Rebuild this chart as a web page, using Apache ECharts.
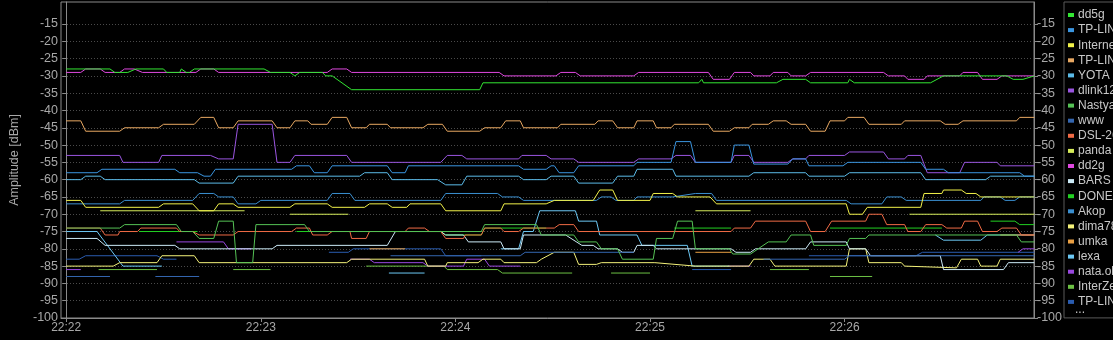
<!DOCTYPE html>
<html><head><meta charset="utf-8">
<script src="https://cdn.jsdelivr.net/npm/echarts@6/dist/echarts.min.js"></script>
<style>html,body{margin:0;padding:0;background:#000;}#c{width:1113px;height:340px;}</style>
</head><body><div id="c"></div>
<script>
// time in seconds after 22:22:00, amplitude in dBm; [t,'-'] = gap
const yTicks = [-15,-20,-25,-30,-35,-40,-45,-50,-55,-60,-65,-70,-75,-80,-85,-90,-95,-100];
const xTicks = [0,60,120,180,240];
const xTickLabels = ['22:22','22:23','22:24','22:25','22:26'];
const seriesNames = ['dd5g','TP-LINK_1','Internet','TP-LINK_2','YOTA','dlink12','Nastya','www','DSL-26','panda','dd2g','BARS','DONET','Akop','dima78','umka','lexa','nata.olm','InterZet','TP-LINK_3'];
const seriesColors = ['#33e633','#3a95e0','#f2f24a','#e8a862','#5bbbe8','#9a55e0','#55c255','#3466b0','#f06a45','#d6ec5a','#e048e0','#cdebf7','#22d022','#3a8fd0','#f4f27a','#eaa044','#6cc8f4','#9a48e0','#6cc044','#2a5cb0'];

const dd5g = [[0,-28],[13.5,-28],[15,-29],[19,-29],[21.5,-28],[30,-28],[31,-29],[35,-29],[35.5,-28],[36,-28],[37,-29],[38,-29],[39.5,-28],[61,-28],[63,-29],[69,-29],[70.5,-30],[71,-30],[72,-29],[79,-29],[80,-30],[82,-30],[88,-34],[127.5,-34],[128.5,-32],[195,-32],[196,-31],[196.5,-32],[219,-32],[221,-31],[228,-31],[229.5,-32],[241,-32],[241.5,-31],[243,-32],[266.5,-32],[270.5,-30],[290,-30],[292,-31],[295,-31],[298.5,-30]];
const tplink1 = [[0,-58],[9.5,-58],[11,-57],[33.5,-57],[35,-58],[40.5,-58],[42.5,-59],[44.5,-59],[46,-57],[69.5,-57],[71,-56],[75,-56],[76.5,-58],[80.5,-58],[82,-56],[99,-56],[100.5,-58],[104.5,-58],[105.5,-56],[139.5,-56],[141,-57],[148,-57],[149.5,-56],[150.5,-56],[152,-58],[156.5,-58],[158,-56],[175,-56],[176,-55],[186.5,-55],[188,-49],[192.5,-49],[194,-55],[205,-55],[206,-50],[210.5,-50],[212,-55.5],[222.5,-55.5],[224,-54],[228,-54],[229,-56],[239.5,-56],[241,-55],[263.5,-55],[265,-57],[270.5,-57],[272,-58],[294,-58],[295.5,-59],[298.5,-59]];
const internet = [[0,-66],[4.5,-66],[6,-68],[28.5,-68],[30,-67],[39,-67],[41,-69],[45.5,-69],[47,-67],[51.5,-67],[53,-68],[69,-68],[70.5,-67],[80.5,-67],[82,-68],[92,-68],[93.5,-67],[99,-67],[100.5,-68],[105,-68],[106,-67],[115.5,-67],[117,-69],[134,-69],[135,-67],[148,-67],[150.5,-66],[162.5,-66],[164.5,-63],[168.5,-63],[170,-66],[180,-66],[181,-64],[187,-64],[188.5,-65],[198.5,-65],[200.5,-67],[240.5,-67],[241.5,-70],[245.5,-70],[247,-68],[263.5,-68],[264.5,-64],[270,-64],[270.5,-63],[276,-63],[277.5,-64],[280.5,-64],[282,-65],[298.5,-65]];
const tplink2 = [[0,-43],[4.5,-43],[6,-46],[16.5,-46],[18,-45],[28.5,-45],[30,-44],[39.5,-44],[41.5,-42],[45.5,-42],[47,-45],[51.5,-45],[53,-43],[63.5,-43],[65,-45],[69,-45],[70.5,-43],[74.5,-43],[75.5,-44],[80.5,-44],[82,-42],[86.5,-42],[88,-45],[92.5,-45],[93.5,-44],[99,-44],[100,-45],[110,-45],[111.5,-44],[116,-44],[117.5,-46],[127.5,-46],[129,-45],[134,-45],[135.5,-43],[140,-43],[141,-45],[151.5,-45],[152.5,-44],[163,-44],[164,-43],[168.5,-43],[170,-45],[175,-45],[176,-43],[181,-43],[182,-45],[186.5,-45],[187.5,-44],[198,-44],[199.5,-46],[204.5,-46],[206,-45],[210.5,-45],[211.5,-44],[216.5,-44],[218,-43],[222,-43],[223.5,-44],[228,-44],[229.5,-46],[234,-46],[235.5,-43],[240,-43],[241,-42],[246,-42],[247.5,-44],[257.5,-44],[258.5,-43],[269.5,-43],[271,-44],[275,-44],[276.5,-43],[293,-43],[294,-42],[298.5,-42]];
const yota = [[0,-60],[4.5,-60],[6,-59],[10.5,-59],[12,-60],[39.5,-60],[41,-61],[51.5,-61],[53,-59],[90.5,-59],[92,-58],[99,-58],[100.5,-60],[114.5,-60],[117,-61.5],[122,-61.5],[123.5,-59],[139.5,-59],[141,-60],[148,-60],[149.5,-59],[156.5,-59],[158,-61],[168.5,-61],[170,-59],[175,-59],[176,-57],[187,-57],[188,-59],[210.5,-59],[212,-58],[228,-58],[229,-59],[240,-59],[241.5,-58],[263.5,-58],[265,-60],[283.5,-60],[285,-59],[298.5,-59]];
const dlink12 = [[0,-53],[16.5,-53],[17.5,-55],[28.5,-55],[29.5,-53],[44.5,-53],[47,-54],[51.5,-54],[53,-44],[63.5,-44],[65,-55],[69,-55],[70.5,-53],[86.5,-53],[88,-55],[115.5,-55],[117.5,-53],[122,-53],[123.5,-54],[139.5,-54],[140.5,-53],[148,-53],[149.5,-54],[156.5,-54],[158,-55],[175,-55],[176.5,-54],[186.5,-54],[188,-53],[192.5,-53],[194,-55],[205,-55],[206,-53],[210.5,-53],[212,-55],[222.5,-55],[224,-54],[228,-54],[229,-53],[240,-53],[241.5,-52],[252,-52],[253.5,-54],[258.5,-54],[259.5,-53],[263.5,-53],[265.5,-58],[275.5,-58],[277,-55],[287,-55],[288,-56],[298.5,-56]];
const nastya = [[0,-74],[16.5,-74],[18,-73],[34,-73],[35.5,-75],[39,-75],[41,-77],[45.5,-77],[47,-72],[51.5,-72],[52.5,-84],[57.5,-84],[58.5,-73],[73.5,-73],[75,-75],[128,-75],[129,-73],[145,-73],[146.5,-76],[156.5,-76],[158,-78],[163.5,-78],[165,-80],[170,-80],[171.5,-83],[181,-83],[182,-77],[187,-77],[188.5,-72],[193,-72],[194,-80],[204.5,-80],[205.5,-81.5],[211,-81.5],[216.5,-78],[222,-78],[223.5,-76],[229.5,-76],[230.5,-79],[240.5,-79],[241.5,-77],[246.5,-77],[247.5,-76],[293,-76],[294.5,-78],[298.5,-78]];
const www = [[0,-88],[13.5,-88],[20,'-'],[27.5,-88],[41,-88],[50,'-'],[100,-82],[140,-82],[141.5,-81],[175,-81],[190,'-'],[215,-83],[240,-83],[241.5,-82],[298.5,-82]];
const dsl26 = [[0,-74],[10.5,-74],[12,-76],[16,-76],[16.5,-75],[22,-75],[23,-74],[34,-74],[35,-75],[39,-75],[41,-76],[51.5,-76],[53,-75],[69.5,-75],[71,-74],[75,-74],[76,-76],[80.5,-76],[82,-75],[87.5,-75],[88,-77],[92.5,-77],[93.5,-75],[104.5,-75],[105.5,-74],[110.5,-74],[112,-75],[115.5,-75],[117,-77],[122.5,-77],[123,-76],[128,-76],[129,-74],[134,-74],[135,-75],[139.5,-75],[141,-74],[150.5,-74],[152,-73],[156.5,-73],[158,-75],[205,-75],[206,-74],[211,-74],[212.5,-72],[228,-72],[229.5,-75],[234,-75],[236,-72],[246.5,-72],[247.5,-70],[251.5,-70],[253,-73],[258.5,-73],[259.5,-75],[263.5,-75],[265,-73],[270,-73],[271.5,-74],[276,-74],[277,-72],[281,-72],[282.5,-75],[287,-75],[288.5,-74],[293,-74],[294.5,-76],[298.5,-76]];
const panda = [[10.5,-69],[55,-69],[62,'-'],[69,-70],[87,-70],[140,'-'],[194,-69],[211,-69],[230,'-'],[260,-70],[298.5,-70]];
const dd2g = [[0,-29],[4.5,-29],[6,-28],[10.5,-28],[12,-29],[16.5,-29],[18,-28],[21,-28],[23.5,-29],[40,-29],[41.5,-28],[45.5,-28],[47,-29],[80.5,-29],[82,-28],[86.5,-28],[88,-29],[133.5,-29],[135,-30],[151,-30],[152.5,-29],[157,-29],[158.5,-30],[175,-30],[176.5,-29],[198,-29],[199.5,-31],[204.5,-31],[206,-29],[211,-29],[212,-30],[217,-30],[218,-29],[222.5,-29],[223.5,-30],[228,-30],[229.5,-29],[252,-29],[253.5,-30],[258.5,-30],[259.5,-31],[264.5,-31],[265.5,-30],[275.5,-30],[276.5,-29],[281,-29],[282.5,-31],[287,-31],[288.5,-30],[298.5,-30]];
const bars = [[0,-77],[9.5,-77],[12,-79],[33.5,-79],[35,-80],[63.5,-80],[65,-79],[99,-79],[101.5,-75],[115.5,-75],[117,-76],[122.5,-76],[124,-78],[134,-78],[135,-80],[140,-80],[141,-76],[154,-76],[159,-79],[162.5,-79],[164,-80],[170,-80],[171.5,-81],[175,-81],[176,-79],[181,-79],[182,-80],[205,-80],[206.5,-81],[211,-81],[212.5,-80],[228,-80],[229.5,-78],[240.5,-78],[241.5,-80],[246.5,-80],[248,-82],[269.5,-82],[270.5,-86],[289,-86],[290.5,-84],[298.5,-84]];
const donet = [[22.5,-75],[40.5,-75],[56,'-'],[71,-75],[115.5,-75],[117,-76],[128,-76],[129,-74],[148,-74],[170,'-'],[187.5,-74],[205,-74],[220,'-'],[235.5,-74],[270,-74],[280,'-'],[285,-72],[292.5,-72],[294,-73],[298.5,-73]];
const akop = [[0,-67],[16.5,-67],[18,-66],[39,-66],[41,-64],[45.5,-64],[47,-65],[51.5,-65],[53,-67],[58.5,-67],[60,-66],[80.5,-66],[82,-64],[87.5,-64],[89,-66],[115.5,-66],[117,-64],[133,-64],[134.5,-65],[139.5,-65],[141,-66],[163.5,-66],[165,-65],[168,-65],[169.5,-66],[175,-66],[176,-65],[187,-65],[194,-64],[199,-64],[200.5,-66],[240.5,-66],[242,-67],[251.5,-67],[253,-65],[257.5,-65],[259,-66],[282,-66],[283,-65],[288,-65],[289.5,-66],[292.5,-66],[294,-65],[298.5,-65]];
const dima78 = [[0,-85],[14.5,-85],[16.5,-84],[28,-84],[29.5,-82],[39.5,-82],[41,-84],[86.5,-84],[88,-83],[110.5,-83],[111.5,-85],[117,-85],[117.5,-84],[127,-84],[128.5,-83],[134,-83],[135,-84],[145,-84],[146.5,-83],[150.5,-81],[156.5,-81],[158,-84.5],[163.5,-84.5],[165,-84],[181.5,-84],[194,-85],[210.5,-85],[212,-83],[217,-83],[218.5,-85],[240.5,-85],[241.5,-80],[246.5,-80],[247.5,-84],[257.5,-84],[258.5,-85],[274.5,-85.5],[276,-83],[281,-83],[282,-85],[287,-85],[288,-83],[298.5,-83]];
const umka = [[93.5,-80],[104.5,-80],[120,'-'],[194,-81],[205,-81],[250,'-'],[288,-76],[298.5,-76]];
const lexa = [[0,-75],[9.5,-75],[17.5,-85],[29.5,-85],[50,'-'],[99.5,-87],[110.5,-87],[120,'-'],[134,-80],[139.5,-80],[141,-75],[144,-75],[146,-69],[157,-69],[158,-72],[163.5,-72],[164.5,-76],[176,-76],[177.5,-79],[191.5,-79],[193,-85],[204.5,-85],[230,'-'],[268,-76],[270.5,-77.5],[282,-77.5],[284,-76],[298.5,-76]];
const nataOlm = [[0,-86],[4.5,-86],[20,'-'],[34,-78],[48.5,-78],[50,-80],[57,-80],[70,'-'],[87.5,-83],[93.5,-83],[95,-84],[110,-84],[111.5,-85],[122.5,-85],[123.5,-83],[129,-83],[130.5,-85],[140,-85],[170,'-'],[204,-85],[211,-85],[250,'-'],[293.5,-81],[295,-80],[298.5,-80]];
const interZet = [[10,-86],[28,-86],[40,'-'],[51.5,-86],[63,-86],[80,'-'],[92.5,-85],[116.5,-85],[117.5,-86],[133,-86],[134.5,-87],[156,-87],[160,'-'],[168,-87],[180,-87],[200,'-'],[217,-86],[229,-86],[232,'-'],[235.5,-88],[248.5,-88]];
const tplink3 = [[0,-83],[4,-83],[6,-82],[28,-82],[30,-83],[34,-83],[50,'-'],[81,-81],[87,-81],[88.5,-80],[115.5,-80],[117,-82],[128,-82],[140,'-'],[193,-86],[205,-86],[220,'-'],[229,-82],[262,-82],[264,-81],[298.5,-81]];

const seriesData = [dd5g,tplink1,internet,tplink2,yota,dlink12,nastya,www,dsl26,panda,dd2g,bars,donet,akop,dima78,umka,lexa,nataOlm,interZet,tplink3];

const FONT = 'Liberation Sans';
const chart = echarts.init(document.getElementById('c'), null, {renderer:'canvas'});
const yAxisBase = {
  type:'value', min:-100, max:-8.64, interval:5,
  axisLine:{show:true, lineStyle:{color:'#8a8a8a'}},
  axisTick:{show:true, length:4, customValues:yTicks, lineStyle:{color:'#8a8a8a'}},
  axisLabel:{customValues:yTicks, color:'#a8a8a8', fontFamily:FONT, fontSize:12.5, margin:3},
};
chart.setOption({
  backgroundColor:'#000',
  animation:false,
  grid:{left:48, right:79, top:2, bottom:22, show:true, borderColor:'#8a8a8a', borderWidth:1, backgroundColor:'#000'},
  xAxis:{type:'value', min:-1.6, max:298.4,
    axisLine:{lineStyle:{color:'#8a8a8a'}},
    axisTick:{show:true, length:4, customValues:xTicks, lineStyle:{color:'#8a8a8a'}},
    axisLabel:{customValues:xTicks, color:'#a8a8a8', fontFamily:FONT, fontSize:12, margin:4,
      formatter:(v)=>{const i=xTicks.indexOf(v);return i>=0?xTickLabels[i]:'';}},
    splitLine:{show:false}},
  yAxis:[
    Object.assign({}, yAxisBase, {position:'left', name:'Amplitude [dBm]', nameLocation:'middle', nameGap:40,
      nameTextStyle:{color:'#a8a8a8', fontFamily:FONT, fontSize:12.5},
      splitLine:{show:true, lineStyle:{color:'#4a4a4a', type:[1,2]}}}),
    Object.assign({}, yAxisBase, {position:'right', splitLine:{show:false}})
  ],
  legend:{orient:'vertical', left:1064, top:2, itemWidth:6, itemHeight:4, itemGap:3.1, icon:'rect',
    padding:[7,2,10,4], backgroundColor:'#000', borderColor:'#5a5a5a', borderWidth:1,
    selectedMode:false, z:3,
    textStyle:{color:'#c8c8c8', fontFamily:FONT, fontSize:12, padding:[0,0,0,-1]},
    formatter:(n)=>n.replace(/_\d+$/,''),
    data:seriesNames},
  graphic:[{type:'text', left:1075, top:304, z:100, zlevel:1, style:{text:'...', fill:'#c8c8c8', font:'12px Liberation Sans'}}],
  series: seriesNames.map((n,i)=>({
    name:n, type:'line', data:seriesData[i], showSymbol:false, symbol:'none',
    connectNulls:false, color:seriesColors[i],
    lineStyle:{width:1, color:seriesColors[i]}, z:2+ (20-i)*0.01
  }))
});
</script></body></html>
